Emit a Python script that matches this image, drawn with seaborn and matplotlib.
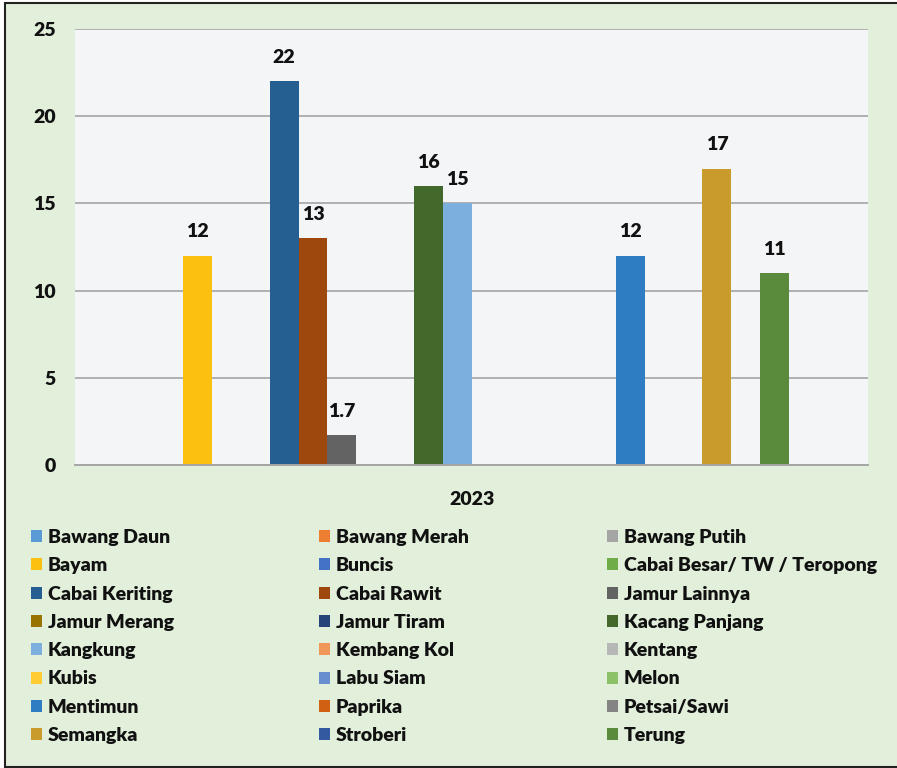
import numpy as np
import pandas as pd
import matplotlib.pyplot as plt
import seaborn as sns
from matplotlib.patches import Patch, Rectangle

# ======== DATA ========
year = '2023'
crops = ['Bawang Daun', 'Bawang Merah', 'Bawang Putih', 'Bayam', 'Buncis',
         'Cabai Besar/ TW / Teropong', 'Cabai Keriting', 'Cabai Rawit', 'Jamur Lainnya',
         'Jamur Merang', 'Jamur Tiram', 'Kacang Panjang', 'Kangkung', 'Kembang Kol',
         'Kentang', 'Kubis', 'Labu Siam', 'Melon', 'Mentimun', 'Paprika',
         'Petsai/Sawi', 'Semangka', 'Stroberi', 'Terung']
values = [0, 0, 0, 12, 0,
          0, 22, 13, 1.7,
          0, 0, 16, 15, 0,
          0, 0, 0, 0, 12, 0,
          0, 17, 0, 11]
colors = ['#5B9BD5', '#ED7D31', '#A5A5A5', '#FCC010', '#4472C4',
          '#70AD47', '#255E91', '#9E480E', '#636363',
          '#997300', '#264478', '#43682B', '#7CAFDD', '#F1975A',
          '#B7B7B7', '#FFCD33', '#698ED0', '#8CC168', '#2E7DC2', '#D26012',
          '#848484', '#C99A2C', '#335AA1', '#5A8A3C']

df = pd.DataFrame({'year': year, 'crop': crops, 'value': values})
palette = dict(zip(crops, colors))

# ======== STYLE ========
sns.set_style('white')
plt.rcParams['font.family'] = ['Lato', 'DejaVu Sans']
plt.rcParams['font.weight'] = 'heavy'
plt.rcParams['text.color'] = '#111111'

fig = plt.figure(figsize=(8.97, 7.68), dpi=100, facecolor='white')
fig.patches.append(Rectangle((5 / 897, 1 / 768), 1.0, 764 / 768, transform=fig.transFigure,
                             facecolor='#E2EFDA', edgecolor='#222222', lw=1.5, zorder=-1))
ax = fig.add_axes([75 / 897, 1 - 465 / 768, 793 / 897, 436 / 768])
ax.set_facecolor('#F4F5F7')

sns.barplot(data=df, x='year', y='value', hue='crop', hue_order=crops, palette=palette,
            width=0.8, dodge=True, saturation=1, linewidth=0, legend=False, ax=ax)

# data labels
for cont, v in zip(ax.containers, values):
    if v > 0:
        ax.bar_label(cont, labels=[f'{v:g}'], padding=11, fontsize=14, fontweight='heavy')

ax.set_ylim(0, 25)
ax.set_yticks([0, 5, 10, 15, 20, 25])
x0, x1 = -0.425, 0.4913
ax.set_xlim(x0, x1)
ax.set_xticks([(x0 + x1) / 2])
ax.set_xticklabels([year], fontweight='heavy')
ax.set_xticks([x0, x1], minor=True)
ax.tick_params(axis='x', which='major', length=0, pad=19, labelsize=14, labelcolor='#111111')
ax.tick_params(axis='x', which='minor', length=5, width=1.2, color='#A6A6A6', direction='out')
ax.tick_params(axis='y', length=5, width=1.2, color='#A6A6A6', pad=9, labelsize=14,
               direction='out', labelcolor='#111111')
for t in ax.get_yticklabels():
    t.set_fontweight('heavy')
ax.yaxis.grid(True, color='#B0B0B0', lw=1.4)
ax.set_axisbelow(True)
ax.set_xlabel('')
ax.set_ylabel('')
for s in ['left', 'right', 'top']:
    ax.spines[s].set_visible(False)
ax.spines['bottom'].set_color('#A6A6A6')
ax.spines['bottom'].set_linewidth(1.4)

# ======== LEGEND ========
handles = [Patch(facecolor=c, edgecolor='none') for c in colors]
for col, xa in enumerate([31, 319, 607]):
    fig.legend(handles[col::3], crops[col::3], loc='upper left',
               bbox_to_anchor=(xa / 897, 1 - 529 / 768), frameon=False,
               borderpad=0, borderaxespad=0, handlelength=0.57, handleheight=0.57,
               handletextpad=0.3, labelspacing=0.58, prop={'size': 14, 'weight': 'heavy'})

fig.savefig('out.png', dpi=100)
